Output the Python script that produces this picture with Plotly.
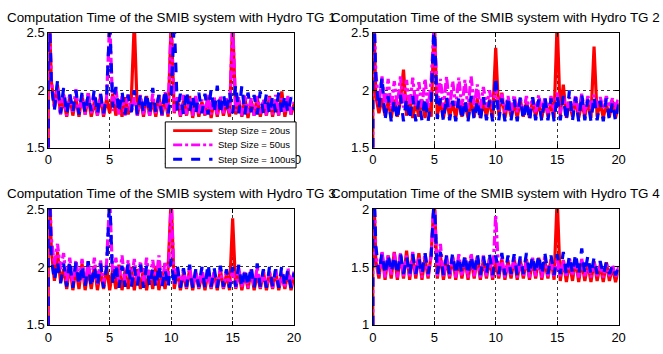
import plotly.graph_objects as go

# time axis (s); first two samples at t=0 form the start-up transient
t = [0, 0,
     0.25, 0.5, 0.75, 1.0, 1.25, 1.5, 1.75, 2.0, 2.25, 2.5,
     2.75, 3.0, 3.25, 3.5, 3.75, 4.0, 4.25, 4.5, 4.75, 5.0,
     5.25, 5.5, 5.75, 6.0, 6.25, 6.5, 6.75, 7.0, 7.25, 7.5,
     7.75, 8.0, 8.25, 8.5, 8.75, 9.0, 9.25, 9.5, 9.75, 10.0,
     10.25, 10.5, 10.75, 11.0, 11.25, 11.5, 11.75, 12.0, 12.25, 12.5,
     12.75, 13.0, 13.25, 13.5, 13.75, 14.0, 14.25, 14.5, 14.75, 15.0,
     15.25, 15.5, 15.75, 16.0, 16.25, 16.5, 16.75, 17.0, 17.25, 17.5,
     17.75, 18.0, 18.25, 18.5, 18.75, 19.0, 19.25, 19.5, 19.75, 20.0]

tg1_20 = [1.0, 3.0,
          2.08, 1.86, 2.05, 1.80, 1.92, 1.77, 1.95, 1.78, 1.93, 1.77,
          1.96, 1.79, 1.94, 1.77, 1.90, 1.78, 1.95, 1.77, 1.93, 1.80,
          1.97, 1.78, 1.92, 1.77, 1.94, 1.79, 1.90, 2.60, 1.78, 1.93,
          1.77, 1.95, 1.78, 1.91, 1.77, 1.96, 1.78, 1.93, 1.77, 2.60,
          1.80, 1.93, 1.77, 1.91, 1.78, 1.95, 1.76, 1.92, 1.77, 1.90,
          1.78, 1.94, 1.76, 1.92, 1.77, 1.93, 1.78, 1.90, 1.77, 2.60,
          1.79, 1.92, 1.77, 1.93, 1.76, 1.91, 1.78, 1.94, 1.77, 1.90,
          1.78, 1.95, 1.77, 1.92, 1.78, 1.99, 1.77, 1.91, 1.79, 1.88]
tg1_50 = [1.0, 3.0,
          2.10, 1.84, 2.02, 1.79, 1.98, 1.78, 1.97, 1.80, 2.01, 1.78,
          1.96, 1.79, 1.99, 1.80, 1.95, 1.78, 1.97, 1.79, 1.94, 2.60,
          1.82, 2.02, 1.79, 1.95, 1.78, 1.97, 1.80, 1.94, 1.78, 1.96,
          1.79, 1.93, 1.78, 1.97, 1.80, 1.95, 1.78, 1.99, 1.79, 2.60,
          1.81, 1.94, 1.78, 1.96, 1.79, 1.93, 1.78, 1.95, 1.80, 1.92,
          1.78, 1.96, 1.79, 1.94, 1.78, 1.95, 1.79, 1.93, 1.80, 2.60,
          1.82, 1.94, 1.78, 1.96, 1.79, 1.93, 1.78, 1.95, 1.80, 1.92,
          1.78, 1.94, 1.79, 1.96, 1.78, 1.93, 1.80, 1.95, 1.79, 1.90]
tg1_100 = [1.0, 3.0,
           2.05, 1.83, 2.08, 1.80, 2.02, 1.79, 1.97, 1.81, 2.00, 1.79,
           1.98, 1.80, 1.96, 1.82, 2.01, 1.79, 1.97, 1.80, 1.95, 2.60,
           1.85, 2.03, 1.80, 1.99, 1.79, 1.96, 1.81, 2.00, 1.79, 1.97,
           1.80, 1.98, 1.79, 2.02, 1.81, 1.96, 1.79, 2.01, 1.80, 1.95,
           2.60, 1.82, 1.97, 1.79, 2.00, 1.81, 1.96, 1.79, 1.98, 1.80,
           1.97, 1.79, 2.01, 1.80, 2.04, 1.79, 1.97, 1.81, 1.99, 1.80,
           2.05, 1.80, 2.04, 1.79, 1.98, 1.81, 1.96, 1.79, 1.99, 1.80,
           1.97, 1.79, 1.95, 1.81, 1.98, 1.79, 1.96, 1.80, 1.94, 1.83]

tg2_20 = [1.0, 3.0,
          1.95, 1.80, 1.93, 1.78, 1.90, 1.76, 1.92, 1.77, 1.91, 2.18,
          1.78, 1.93, 1.76, 1.90, 1.77, 1.92, 1.76, 1.89, 1.77, 2.60,
          1.78, 1.91, 1.76, 1.93, 1.77, 1.90, 1.76, 1.92, 1.77, 1.89,
          1.76, 1.91, 1.77, 1.93, 1.76, 1.90, 1.77, 1.92, 1.76, 2.37,
          1.78, 1.98, 1.76, 1.91, 1.77, 1.89, 1.76, 1.92, 1.77, 1.90,
          1.76, 1.91, 1.77, 1.89, 1.76, 1.92, 1.77, 1.90, 1.76, 2.60,
          1.78, 2.05, 1.76, 1.90, 1.77, 1.92, 1.76, 1.89, 1.77, 1.91,
          1.76, 2.38, 1.77, 1.90, 1.76, 1.88, 1.77, 1.91, 1.76, 1.89]
tg2_50 = [1.0, 3.0,
          2.15, 1.88, 2.12, 1.85, 2.10, 1.84, 2.08, 1.86, 2.12, 1.85,
          2.09, 1.84, 2.11, 1.86, 2.07, 1.85, 2.10, 1.84, 2.08, 2.60,
          1.88, 2.10, 1.85, 2.12, 1.84, 2.08, 1.86, 2.11, 1.85, 2.09,
          1.84, 2.12, 1.86, 2.05, 1.84, 2.03, 1.85, 2.00, 1.84, 2.02,
          1.83, 1.97, 1.81, 1.95, 1.80, 1.96, 1.81, 1.94, 1.80, 1.95,
          1.81, 1.94, 1.80, 1.96, 1.81, 1.93, 1.80, 1.95, 1.81, 1.98,
          1.80, 1.95, 1.81, 1.94, 1.80, 1.96, 1.81, 1.97, 1.80, 1.95,
          1.84, 1.96, 1.85, 1.94, 1.84, 1.95, 1.85, 1.93, 1.84, 1.94]
tg2_100 = [1.0, 3.0,
           2.10, 1.84, 2.12, 1.74, 1.95, 1.73, 1.92, 1.74, 1.96, 1.73,
           1.93, 1.74, 1.95, 1.73, 1.91, 1.74, 1.94, 1.73, 1.92, 2.60,
           1.75, 1.93, 1.73, 1.95, 1.74, 1.91, 1.73, 1.94, 1.74, 1.92,
           1.73, 1.95, 1.74, 1.92, 1.73, 1.94, 1.74, 1.91, 1.73, 2.12,
           1.74, 1.93, 1.73, 1.95, 1.74, 1.92, 1.73, 1.94, 1.74, 1.91,
           1.73, 1.94, 1.74, 1.92, 1.73, 1.95, 1.74, 1.93, 1.73, 1.96,
           1.74, 1.95, 1.73, 2.00, 1.74, 1.94, 1.73, 1.97, 1.74, 1.92,
           1.73, 1.95, 1.74, 1.91, 1.73, 1.93, 1.74, 1.90, 1.73, 1.88]

tg3_20 = [1.0, 3.0,
          2.15, 1.88, 2.13, 1.87, 1.98, 1.81, 2.02, 1.80, 1.99, 1.81,
          2.03, 1.80, 1.98, 1.81, 2.01, 1.80, 1.97, 1.81, 2.00, 1.80,
          1.98, 1.81, 2.02, 1.80, 1.97, 1.81, 2.00, 1.80, 1.98, 1.81,
          1.99, 1.80, 1.97, 1.81, 2.01, 1.80, 1.96, 1.81, 1.99, 2.60,
          1.81, 1.97, 1.80, 1.95, 1.81, 1.98, 1.80, 1.96, 1.81, 1.94,
          1.80, 1.97, 1.81, 1.95, 1.80, 1.98, 1.81, 1.94, 1.80, 2.42,
          1.81, 1.96, 1.80, 1.95, 1.81, 1.97, 1.80, 1.94, 1.81, 1.96,
          1.80, 1.95, 1.81, 1.97, 1.80, 1.94, 1.81, 1.96, 1.80, 1.93]
tg3_50 = [1.0, 3.0,
          2.25, 2.02, 2.20, 1.98, 2.12, 1.86, 2.08, 1.85, 2.06, 1.87,
          2.07, 1.85, 2.05, 1.86, 2.08, 1.85, 2.06, 1.86, 2.04, 2.60,
          1.88, 2.08, 1.86, 2.10, 1.85, 2.06, 1.86, 2.07, 1.85, 2.05,
          1.86, 2.08, 1.85, 2.06, 1.86, 2.10, 1.84, 2.05, 1.85, 2.60,
          1.84, 2.00, 1.83, 1.98, 1.82, 2.00, 1.83, 1.97, 1.82, 1.99,
          1.83, 1.98, 1.82, 1.96, 1.83, 1.99, 1.82, 1.97, 1.83, 1.98,
          1.82, 1.99, 1.83, 1.96, 1.82, 1.98, 1.83, 2.00, 1.82, 1.97,
          1.83, 1.96, 1.82, 1.98, 1.83, 1.95, 1.82, 1.99, 1.83, 1.96]
tg3_100 = [1.0, 3.0,
           2.08, 1.88, 2.05, 1.86, 2.03, 1.83, 2.06, 1.82, 2.04, 1.84,
           2.02, 1.83, 2.05, 1.82, 2.01, 1.84, 2.03, 1.82, 2.00, 2.60,
           1.84, 2.03, 1.82, 2.01, 1.83, 2.04, 1.82, 2.00, 1.84, 2.02,
           1.82, 2.01, 1.83, 1.99, 1.82, 2.02, 1.83, 1.98, 1.82, 2.07,
           1.83, 2.01, 1.82, 1.99, 1.83, 2.02, 1.82, 1.98, 1.83, 2.00,
           1.82, 2.03, 1.83, 1.99, 1.82, 2.01, 1.83, 1.98, 1.82, 2.00,
           1.83, 2.02, 1.82, 1.99, 1.83, 2.01, 1.82, 2.03, 1.83, 1.98,
           1.82, 2.00, 1.83, 1.98, 1.82, 2.01, 1.83, 1.97, 1.82, 1.95]

tg4_20 = [0.5, 2.5,
          1.55, 1.40, 1.62, 1.39, 1.60, 1.40, 1.63, 1.39, 1.61, 1.40,
          1.64, 1.39, 1.60, 1.40, 1.62, 1.39, 1.58, 1.40, 1.61, 2.10,
          1.40, 1.60, 1.39, 1.57, 1.40, 1.59, 1.39, 1.56, 1.40, 1.58,
          1.39, 1.57, 1.40, 1.59, 1.39, 1.56, 1.40, 1.58, 1.39, 1.55,
          1.40, 1.57, 1.39, 1.55, 1.40, 1.58, 1.39, 1.56, 1.40, 1.57,
          1.39, 1.56, 1.40, 1.58, 1.39, 1.55, 1.40, 1.57, 1.39, 2.10,
          1.38, 1.56, 1.37, 1.54, 1.38, 1.57, 1.37, 1.55, 1.38, 1.53,
          1.37, 1.55, 1.38, 1.52, 1.37, 1.54, 1.38, 1.50, 1.37, 1.48]
tg4_50 = [0.5, 2.5,
          1.62, 1.42, 1.64, 1.41, 1.60, 1.42, 1.63, 1.41, 1.62, 1.42,
          1.60, 1.41, 1.63, 1.42, 1.59, 1.41, 1.62, 1.42, 1.60, 2.10,
          1.42, 1.70, 1.41, 1.60, 1.42, 1.58, 1.41, 1.61, 1.42, 1.59,
          1.41, 1.62, 1.42, 1.58, 1.41, 1.60, 1.42, 1.57, 1.41, 1.95,
          1.42, 1.58, 1.41, 1.56, 1.42, 1.59, 1.41, 1.57, 1.42, 1.55,
          1.41, 1.58, 1.42, 1.56, 1.41, 1.59, 1.42, 1.55, 1.41, 1.57,
          1.42, 1.56, 1.41, 1.58, 1.42, 1.55, 1.41, 1.57, 1.42, 1.54,
          1.41, 1.55, 1.42, 1.53, 1.41, 1.54, 1.42, 1.52, 1.41, 1.50]
tg4_100 = [0.5, 2.5,
           1.68, 1.44, 1.62, 1.43, 1.61, 1.45, 1.60, 1.43, 1.62, 1.44,
           1.59, 1.43, 1.61, 1.44, 1.58, 1.43, 1.62, 1.44, 1.60, 2.10,
           1.44, 1.63, 1.43, 1.60, 1.44, 1.62, 1.43, 1.59, 1.44, 1.61,
           1.43, 1.60, 1.44, 1.62, 1.43, 1.59, 1.44, 1.61, 1.43, 1.60,
           1.44, 1.62, 1.43, 1.60, 1.44, 1.61, 1.43, 1.59, 1.44, 1.62,
           1.43, 1.60, 1.44, 1.61, 1.43, 1.62, 1.44, 1.60, 1.43, 1.61,
           1.44, 1.63, 1.43, 1.60, 1.44, 1.62, 1.43, 1.66, 1.44, 1.60,
           1.43, 1.58, 1.44, 1.55, 1.43, 1.54, 1.44, 1.52, 1.43, 1.50]

titles = ["Computation Time of the SMIB system with Hydro TG 1",
          "Computation Time of the SMIB system with Hydro TG 2",
          "Computation Time of the SMIB system with Hydro TG 3",
          "Computation Time of the SMIB system with Hydro TG 4"]
series_names = ["Step Size = 20us", "Step Size = 50us", "Step Size = 100us"]
panels = [(tg1_20, tg1_50, tg1_100), (tg2_20, tg2_50, tg2_100),
          (tg3_20, tg3_50, tg3_100), (tg4_20, tg4_50, tg4_100)]
y_ranges = [[1.5, 2.5], [1.5, 2.5], [1.5, 2.5], [1, 2]]
y_ticks = [[1.5, 2, 2.5], [1.5, 2, 2.5], [1.5, 2, 2.5], [1, 1.5, 2]]
x_ticks = [0, 5, 10, 15, 20]

colors = ["#ff0000", "#ff00ff", "#0000ff"]
dashes = ["solid", "dashdot", "dash"]

W, H = 663, 354
# plot areas in pixels: (left, right, top, bottom)
boxes = [(45, 295, 27, 147), (375, 625, 27, 147),
         (45, 295, 211, 332), (375, 625, 211, 332)]

fig = go.Figure()
FONT = "Liberation Sans, Arial, Helvetica, sans-serif"

for i, (ser, box) in enumerate(zip(panels, boxes)):
    ax = "" if i == 0 else str(i + 1)
    for j, vals in enumerate(ser):
        fig.add_trace(go.Scatter(
            x=t, y=vals, mode="lines", name=series_names[j],
            line=dict(color=colors[j], width=3.2, dash=dashes[j]),
            showlegend=False, xaxis="x" + ax, yaxis="y" + ax,
            hoverinfo="skip"))
    l, r, tp, b = box
    common = dict(showline=True, mirror="ticks", linecolor="black", linewidth=1,
                  ticks="inside", ticklen=4, tickcolor="black",
                  showgrid=True, gridcolor="#333333", griddash="dot", gridwidth=0.8,
                  zeroline=False, tickfont=dict(family=FONT, size=13, color="black"))
    fig.update_layout(**{
        "xaxis" + ax: dict(domain=[l / W, r / W], range=[0, 20], tickvals=x_ticks,
                           anchor="y" + ax, **common),
        "yaxis" + ax: dict(domain=[1 - b / H, 1 - tp / H], range=y_ranges[i],
                           tickvals=y_ticks[i], anchor="x" + ax, **common),
    })
    fig.add_annotation(text=titles[i], xref="paper", yref="paper",
                       x=(l + r) / 2 / W, y=1 - (tp - 6) / H,
                       xanchor="center", yanchor="bottom", showarrow=False,
                       font=dict(family=FONT, size=13.4, color="black"))

# legend box (drawn inside the first panel, as in the original figure)
lx0, lx1, ly0, ly1 = 164, 297, 120, 168
fig.add_shape(type="rect", xref="paper", yref="paper",
              x0=lx0 / W, x1=lx1 / W, y0=1 - ly1 / H, y1=1 - ly0 / H,
              line=dict(color="black", width=1), fillcolor="white", layer="above")
for j, name in enumerate(series_names):
    yy = 1 - (129 + 15 * j) / H
    fig.add_shape(type="line", xref="paper", yref="paper",
                  x0=172 / W, x1=212 / W, y0=yy, y1=yy, layer="above",
                  line=dict(color=colors[j], width=2.8, dash=dashes[j]))
    fig.add_annotation(text=name, xref="paper", yref="paper", x=216 / W, y=yy,
                       xanchor="left", yanchor="middle", showarrow=False,
                       font=dict(family=FONT, size=9.5, color="black"))

fig.update_layout(
    width=W, height=H, margin=dict(l=0, r=0, t=0, b=0),
    paper_bgcolor="white", plot_bgcolor="white", showlegend=False,
)

fig.write_html("out.html")
